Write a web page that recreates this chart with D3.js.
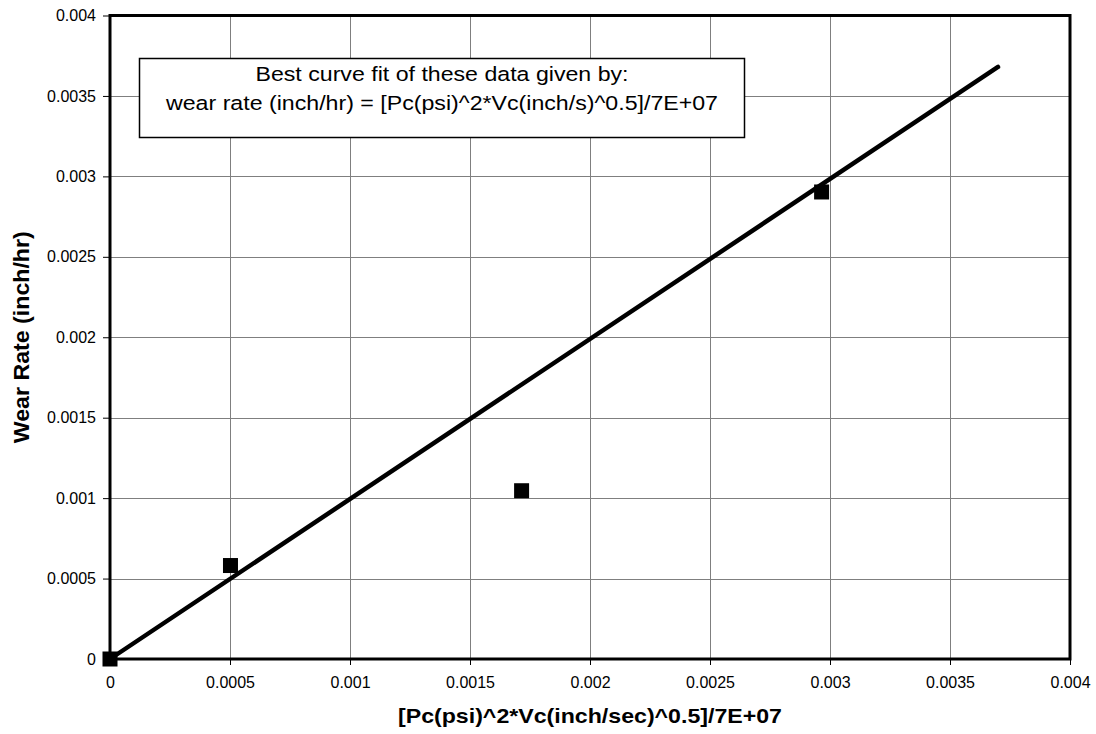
<!DOCTYPE html>
<html>
<head>
<meta charset="utf-8">
<script src="https://cdn.jsdelivr.net/npm/d3@7"></script>
<style>
  html, body { margin: 0; padding: 0; background: #fff; }
  svg { display: block; font-family: "Liberation Sans", Arial, sans-serif; }
</style>
</head>
<body>
<svg id="chart" width="1096" height="734"></svg>
<script>
// Measured wear data (x: load/speed parameter, y: wear rate in inch/hr)
const pointX = [0, 0.000502, 0.001715, 0.002965];
const pointY = [0, 0.000581, 0.001046, 0.002903];

// Best-fit line end points
const fitX = [0, 0.0037];
const fitY = [0, 0.00368];

const xTicks = [0, 0.0005, 0.001, 0.0015, 0.002, 0.0025, 0.003, 0.0035, 0.004];
const yTicks = [0, 0.0005, 0.001, 0.0015, 0.002, 0.0025, 0.003, 0.0035, 0.004];
const tickLabels = ["0", "0.0005", "0.001", "0.0015", "0.002", "0.0025", "0.003", "0.0035", "0.004"];

const xTitle = "[Pc(psi)^2*Vc(inch/sec)^0.5]/7E+07";
const yTitle = "Wear Rate (inch/hr)";
const noteLines = [
  "Best curve fit of these data given by:",
  "wear rate (inch/hr) = [Pc(psi)^2*Vc(inch/s)^0.5]/7E+07"
];

const svg = d3.select("#chart");
const plotL = 110, plotR = 1070, plotT = 15.5, plotB = 659;

const x = d3.scaleLinear().domain([0, 0.004]).range([plotL, plotR]);
const y = d3.scaleLinear().domain([0, 0.004]).range([plotB, plotT]);

// grid
const grid = svg.append("g").attr("stroke", "#7f7f7f").attr("stroke-width", 1);
grid.selectAll("line.v").data(xTicks.slice(1, -1)).join("line")
  .attr("x1", d => Math.round(x(d)) + 0.5).attr("x2", d => Math.round(x(d)) + 0.5)
  .attr("y1", plotT).attr("y2", plotB);
grid.selectAll("line.h").data(yTicks.slice(1, -1)).join("line")
  .attr("y1", d => Math.round(y(d)) + 0.5).attr("y2", d => Math.round(y(d)) + 0.5)
  .attr("x1", plotL).attr("x2", plotR);

// axes
const xAxis = d3.axisBottom(x).tickValues(xTicks).tickFormat((d, i) => tickLabels[i])
  .tickSizeInner(6).tickSizeOuter(0).tickPadding(12);
const yAxis = d3.axisLeft(y).tickValues(yTicks).tickFormat((d, i) => tickLabels[i])
  .tickSizeInner(7).tickSizeOuter(0).tickPadding(7);

const gx = svg.append("g").attr("transform", `translate(0,${plotB})`).call(xAxis);
const gy = svg.append("g").attr("transform", `translate(${plotL},0)`).call(yAxis);
[gx, gy].forEach(g => {
  g.select(".domain").remove();
  g.selectAll(".tick line").attr("stroke", "#000").attr("stroke-width", 1);
  g.selectAll(".tick text").attr("fill", "#000").attr("font-size", 16)
    .attr("font-family", "Liberation Sans, Arial, sans-serif");
});

// plot frame
svg.append("rect")
  .attr("x", plotL).attr("y", plotT)
  .attr("width", plotR - plotL).attr("height", plotB - plotT)
  .attr("fill", "none").attr("stroke", "#000").attr("stroke-width", 3);

// fit line
svg.append("path")
  .datum(fitX.map((d, i) => [d, fitY[i]]))
  .attr("d", d3.line().x(d => x(d[0])).y(d => y(d[1])))
  .attr("fill", "none").attr("stroke", "#000").attr("stroke-width", 4.5)
  .attr("stroke-linecap", "round");

// data markers
const s = 15;
svg.append("g").selectAll("rect").data(pointX.map((d, i) => [d, pointY[i]])).join("rect")
  .attr("x", d => x(d[0]) - s / 2).attr("y", d => y(d[1]) - s / 2)
  .attr("width", s).attr("height", s).attr("fill", "#000");

// equation note
svg.append("rect")
  .attr("x", 139.5).attr("y", 58.5).attr("width", 605).attr("height", 79)
  .attr("fill", "#fff").attr("stroke", "#000").attr("stroke-width", 1.5);
const noteWidths = [373, 552];
noteLines.forEach((t, i) => {
  svg.append("text")
    .attr("x", 442).attr("y", 80.5 + i * 29)
    .attr("text-anchor", "middle").attr("font-size", 20.5)
    .attr("textLength", noteWidths[i]).attr("lengthAdjust", "spacingAndGlyphs")
    .text(t);
});

// axis titles
svg.append("text")
  .attr("x", (plotL + plotR) / 2).attr("y", 723)
  .attr("text-anchor", "middle").attr("font-weight", "bold").attr("font-size", 21)
  .attr("textLength", 384).attr("lengthAdjust", "spacingAndGlyphs")
  .text(xTitle);
svg.append("text")
  .attr("transform", `translate(29,${(plotT + plotB) / 2}) rotate(-90)`)
  .attr("text-anchor", "middle").attr("font-weight", "bold").attr("font-size", 22)
  .attr("textLength", 212).attr("lengthAdjust", "spacingAndGlyphs")
  .text(yTitle);
</script>
</body>
</html>
